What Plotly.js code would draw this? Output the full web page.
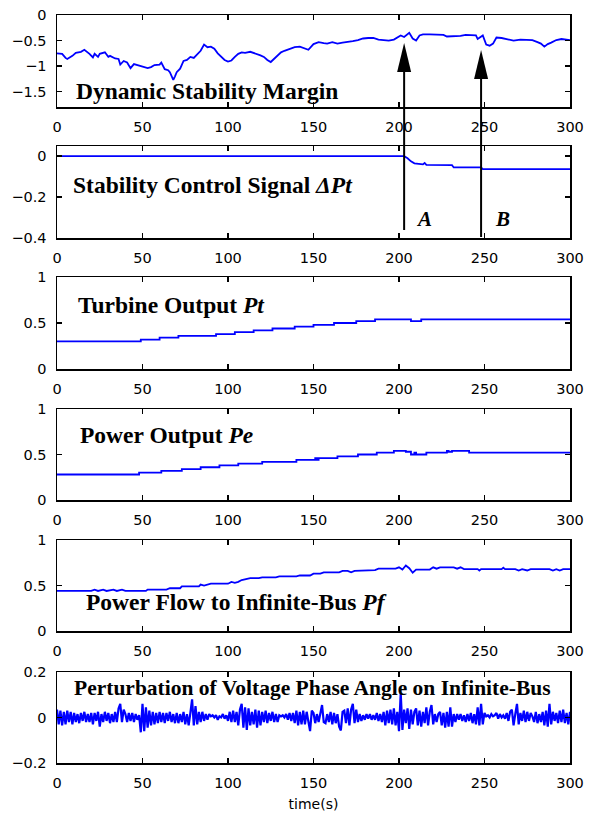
<!DOCTYPE html>
<html><head><meta charset="utf-8">
<script src="https://cdn.plot.ly/plotly-3.0.1.min.js"></script>
<style>html,body{margin:0;padding:0;background:#fff}#chart{width:594px;height:817px}</style>
</head><body><div id="chart"></div>
<script>
// ---------- data ----------
const xTicks = [0, 50, 100, 150, 200, 250, 300];

// Panel 1: Dynamic Stability Margin
const margin_t = [0,3,5,6,9,11,14,16,19,21,22,24,25,28,30,31,34,36,37,39,41,43,45,47,50,53,55,57,60,61,63,65,66,68,69,70,72,74,76,78,80,82,84,86,88,90,92,94,96,98,100,102,104,106,108,110,113,116,119,121,123,125,127,129,131,133,136,139,142,145,147,150,153,156,158,161,164,167,170,173,176,179,182,185,188,191,194,197,199,201,203,205,206,208,210,212,214,218,222,226,228,232,236,239,242,245,246,248,249,251,253,255,257,260,263,267,271,275,278,281,283,285,287,289,292,295,298,300];
const margin_v = [-0.75,-0.76,-0.84,-0.86,-0.80,-0.74,-0.72,-0.68,-0.76,-0.83,-0.76,-0.82,-0.76,-0.73,-0.82,-0.80,-0.85,-0.86,-0.97,-0.90,-0.93,-1.04,-0.96,-0.98,-1.00,-1.04,-1.02,-0.98,-0.97,-0.93,-1.06,-1.08,-1.12,-1.27,-1.20,-1.12,-1.05,-0.90,-0.88,-0.82,-0.84,-0.76,-0.70,-0.58,-0.63,-0.62,-0.66,-0.75,-0.82,-0.88,-0.91,-0.89,-0.82,-0.76,-0.73,-0.74,-0.72,-0.75,-0.79,-0.82,-0.88,-0.92,-0.85,-0.78,-0.73,-0.70,-0.66,-0.63,-0.62,-0.66,-0.68,-0.57,-0.53,-0.55,-0.56,-0.53,-0.56,-0.54,-0.53,-0.51,-0.49,-0.46,-0.45,-0.45,-0.48,-0.49,-0.50,-0.48,-0.44,-0.40,-0.43,-0.37,-0.35,-0.46,-0.50,-0.40,-0.38,-0.38,-0.38,-0.39,-0.42,-0.42,-0.41,-0.39,-0.39,-0.40,-0.47,-0.42,-0.40,-0.58,-0.60,-0.56,-0.44,-0.45,-0.47,-0.50,-0.48,-0.48,-0.49,-0.53,-0.56,-0.62,-0.57,-0.54,-0.49,-0.47,-0.48,-0.49];

// Panel 2: Stability Control Signal dPt
const dpt_t = [0,203,205,207,209,212,214,215,216,231,232,248,249,300];
const dpt_v = [0,0,-0.01,-0.025,-0.035,-0.04,-0.04,-0.033,-0.042,-0.044,-0.055,-0.055,-0.063,-0.063];

// Panel 3: Turbine Output Pt (staircase)
const pt_t = [0,49,60,71,93,104,115,126,139,150,162,175,186,207,213,300];
const pt_v = [0.30,0.32,0.34,0.36,0.38,0.40,0.42,0.44,0.46,0.48,0.50,0.52,0.54,0.52,0.54,0.54];

// Panel 4: Power Output Pe (staircase)
const pe_t = [0,48,61,73,84,95,106,120,140,151,152,153,164,176,187,197,204,207,209,210,216,228,229,231,241,300];
const pe_v = [0.28,0.30,0.32,0.34,0.36,0.38,0.40,0.42,0.44,0.46,0.44,0.46,0.48,0.50,0.52,0.54,0.53,0.50,0.52,0.50,0.52,0.54,0.53,0.54,0.52,0.52];

// Panel 5: Power Flow to Infinite-Bus Pf
const pf_t = [0,20,22,24,27,29,33,35,38,40,52,53,64,66,72,73,83,84,86,88,90,100,102,104,106,108,110,113,118,120,128,130,140,142,148,150,154,156,165,167,170,172,174,186,188,198,200,202,204,206,208,210,218,220,222,224,232,234,236,238,246,247,248,260,261,262,268,270,272,275,277,288,290,292,294,296,300];
const pf_v = [0.44,0.44,0.455,0.44,0.455,0.44,0.455,0.44,0.455,0.44,0.44,0.455,0.455,0.47,0.47,0.49,0.49,0.51,0.50,0.51,0.52,0.52,0.54,0.53,0.54,0.56,0.57,0.58,0.58,0.59,0.59,0.60,0.60,0.61,0.61,0.63,0.63,0.645,0.645,0.66,0.66,0.645,0.66,0.67,0.685,0.685,0.70,0.675,0.72,0.69,0.64,0.675,0.675,0.70,0.685,0.70,0.70,0.685,0.70,0.68,0.68,0.665,0.68,0.68,0.695,0.68,0.68,0.665,0.68,0.665,0.68,0.68,0.665,0.68,0.665,0.68,0.68];

// Panel 6: Perturbation of Voltage Phase Angle (one value per second, t = 0..300)
const pert_v = [
0.035,-0.03,0.03,-0.035,0.025,-0.03,0.03,-0.02,0.025,-0.03,
0.02,-0.02,0.015,-0.025,0.02,-0.015,0.025,-0.02,0.015,-0.02,
0.02,-0.03,0.02,-0.015,0.025,-0.04,0.015,-0.02,0.025,-0.015,
0.02,-0.025,0.015,-0.02,0.025,-0.02,0.04,0.06,-0.02,0.035,
0.015,-0.02,0.02,-0.015,0.02,-0.02,0.015,-0.01,0.01,-0.065,
0.06,-0.06,0.045,-0.045,0.03,-0.035,0.025,-0.03,0.02,-0.025,
0.025,-0.02,0.02,-0.025,0.02,-0.015,0.025,-0.02,0.015,-0.025,
0.02,-0.025,0.015,-0.02,0.025,-0.03,0.015,-0.035,0.02,0.08,
-0.035,0.05,-0.03,0.025,-0.02,0.025,-0.015,0.015,-0.01,0.015,
0.005,0.01,0.0,0.01,-0.01,0.005,0.0,0.015,-0.005,0.01,
-0.015,0.025,-0.02,0.03,-0.02,0.025,-0.035,0.035,0.06,-0.045,
0.045,-0.055,0.04,-0.035,0.025,-0.03,0.035,-0.045,0.03,-0.035,
0.025,-0.02,0.03,-0.025,0.02,-0.015,0.025,-0.02,0.015,-0.02,
0.01,0.005,0.01,0.0,0.015,-0.01,0.02,-0.015,0.02,-0.025,
0.03,-0.035,0.025,-0.03,0.03,-0.03,0.025,-0.02,-0.06,0.03,
0.02,-0.025,0.015,-0.02,0.025,0.055,-0.02,-0.025,0.015,-0.02,
0.025,-0.03,0.02,-0.025,0.015,-0.04,-0.057,0.025,0.03,-0.025,
0.04,-0.035,0.035,0.06,-0.025,0.035,-0.02,0.015,-0.015,0.01,
-0.01,0.015,-0.005,0.015,-0.01,0.01,-0.01,0.02,-0.015,0.015,
-0.02,0.025,-0.035,0.03,-0.025,0.035,-0.03,0.04,-0.035,0.025,
-0.06,0.108,-0.055,0.035,-0.025,0.04,-0.05,0.035,-0.03,0.025,
0.04,-0.035,0.03,-0.04,0.025,-0.025,0.045,-0.035,0.025,0.055,
-0.03,0.015,-0.02,0.015,0.025,-0.035,0.02,-0.045,0.025,-0.04,
0.045,-0.04,0.015,-0.02,0.015,-0.01,0.015,-0.015,0.01,-0.02,
0.015,-0.015,0.02,-0.025,0.015,-0.03,0.045,-0.035,0.06,-0.03,
0.02,0.005,0.01,0.0,0.015,0.005,0.01,0.02,-0.005,0.015,
0.0,0.01,-0.005,0.02,-0.015,0.025,0.035,-0.035,0.015,0.06,
-0.03,0.02,-0.015,0.03,-0.02,0.025,-0.015,0.02,0.005,-0.02,
0.025,-0.025,0.015,-0.02,0.025,-0.035,0.03,-0.04,0.06,-0.03,
0.025,-0.015,0.02,-0.025,0.03,-0.02,0.035,-0.025,0.02,-0.03,
0.025];
const pert_t = pert_v.map((_, i) => i);

// Panel text
const panelTitles = [
  '<b>Dynamic Stability Margin</b>',
  '<b>Stability Control Signal <i>ΔPt</i></b>',
  '<b>Turbine Output <i>Pt</i></b>',
  '<b>Power Output <i>Pe</i></b>',
  '<b>Power Flow to Infinite-Bus <i>Pf</i></b>',
  '<b>Perturbation of Voltage Phase Angle on Infinite-Bus</b>'
];
const markerLabels = ['<b><i>A</i></b>', '<b><i>B</i></b>'];
const markerTimes = [203, 248];

// ---------- layout ----------
const W = 594, H = 817, L = 57, R = 570;
const py = p => 1 - p / H;
const panels = [
  {top: 15,  bottom: 107, range: [-1.8, 0],    tickvals: [0, -0.5, -1, -1.5]},
  {top: 146, bottom: 238, range: [-0.4, 0.05], tickvals: [0, -0.2, -0.4]},
  {top: 277, bottom: 369, range: [0, 1],       tickvals: [0, 0.5, 1]},
  {top: 409, bottom: 500, range: [0, 1],       tickvals: [0, 0.5, 1]},
  {top: 540, bottom: 631, range: [0, 1],       tickvals: [0, 0.5, 1]},
  {top: 672, bottom: 763, range: [-0.2, 0.2],  tickvals: [-0.2, 0, 0.2]}
];
const series = [
  {x: margin_t, y: margin_v, shape: 'linear', w: 1.8},
  {x: dpt_t, y: dpt_v, shape: 'linear', w: 1.8},
  {x: pt_t, y: pt_v, shape: 'hv', w: 1.8},
  {x: pe_t, y: pe_v, shape: 'hv', w: 1.8},
  {x: pf_t, y: pf_v, shape: 'linear', w: 1.8},
  {x: pert_t, y: pert_v, shape: 'linear', w: 2.2}
];

const tickFont = {family: 'DejaVu Sans', size: 14.5, color: '#000'};
const common = {
  showline: true, linecolor: '#000', linewidth: 1.5, mirror: 'ticks',
  ticks: 'inside', ticklen: 5, tickwidth: 1.5, tickcolor: '#000',
  showgrid: false, zeroline: false, tickfont: tickFont, ticklabelstandoff: 6
};

const data = [];
const layout = {
  width: W, height: H, margin: {l: 0, r: 0, t: 0, b: 0},
  paper_bgcolor: '#fff', plot_bgcolor: '#fff', showlegend: false,
  annotations: [], shapes: []
};

panels.forEach((p, i) => {
  const n = i === 0 ? '' : String(i + 1);
  data.push({
    x: series[i].x, y: series[i].y, type: 'scatter', mode: 'lines',
    line: {color: '#0000ff', width: series[i].w, shape: series[i].shape},
    xaxis: 'x' + n, yaxis: 'y' + n, hoverinfo: 'skip'
  });
  layout['xaxis' + n] = Object.assign({}, common, {
    domain: [L / W, R / W], anchor: 'y' + n, range: [0, 300],
    tickvals: xTicks, ticktext: xTicks.map(String)
  });
  layout['yaxis' + n] = Object.assign({}, common, {
    domain: [py(p.bottom), py(p.top)], anchor: 'x' + n, range: p.range,
    tickvals: p.tickvals
  });
});
layout.xaxis6.title = {text: 'time(s)', font: {family: 'DejaVu Sans', size: 14, color: '#000'}, standoff: 9};

// panel titles
const titlePos = [[74, 91, 23.5], [71, 185, 23.5], [76, 305, 23.5], [78, 435, 23.5], [84, 602, 23.5], [72, 688, 21.5]];
panelTitles.forEach((t, i) => {
  layout.annotations.push({
    text: t, xref: 'paper', yref: 'paper', x: titlePos[i][0] / W, y: py(titlePos[i][1]),
    xanchor: 'left', yanchor: 'middle', showarrow: false,
    font: {family: 'Liberation Serif', size: titlePos[i][2], color: '#000'}
  });
});
// A / B labels
const labelPos = [[424, 219], [502, 219]];
markerLabels.forEach((t, i) => {
  layout.annotations.push({
    text: t, xref: 'paper', yref: 'paper', x: labelPos[i][0] / W, y: py(labelPos[i][1]),
    xanchor: 'center', yanchor: 'middle', showarrow: false,
    font: {family: 'Liberation Serif', size: 21, color: '#000'}
  });
});
// arrows
const arrowPx = [[43, 230], [50, 237]];
markerTimes.forEach((tm, i) => {
  const tip = arrowPx[i][0], tail = arrowPx[i][1];
  layout.shapes.push({
    type: 'line', xref: 'x', yref: 'paper', x0: tm, x1: tm,
    y0: py(tail), y1: py(tip + 20), line: {color: '#000', width: 2}
  });
  layout.shapes.push({
    type: 'path', xref: 'x', yref: 'paper', xsizemode: 'pixel', ysizemode: 'pixel',
    xanchor: tm, yanchor: py(tip), path: 'M0,0 L-7,-29 L7,-29 Z',
    fillcolor: '#000', line: {width: 0}
  });
});

Plotly.newPlot('chart', data, layout, {staticPlot: true, displayModeBar: false});
</script>
</body></html>
